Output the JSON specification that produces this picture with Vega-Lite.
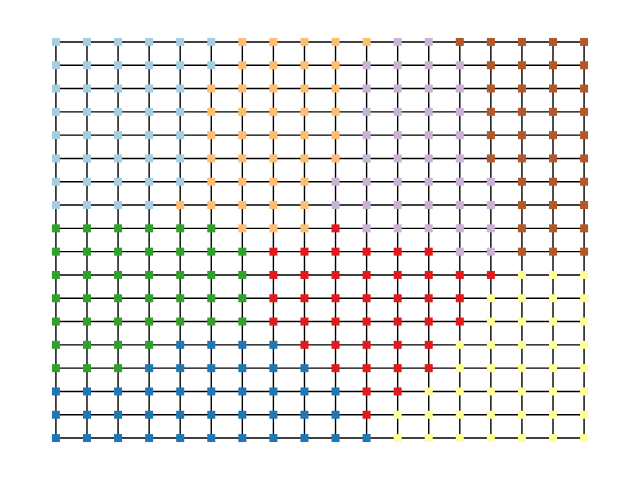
{
  "$schema": "https://vega.github.io/schema/vega-lite/v6.json",
  "width": 640,
  "height": 480,
  "padding": 0,
  "autosize": {"type": "fit", "contains": "padding"},
  "background": "white",
  "config": {"view": {"stroke": null}},
  "data": {"values": [
    {"row":0,"col":0,"group":"lb"},{"row":0,"col":1,"group":"lb"},{"row":0,"col":2,"group":"lb"},{"row":0,"col":3,"group":"lb"},{"row":0,"col":4,"group":"lb"},{"row":0,"col":5,"group":"lb"},{"row":0,"col":6,"group":"lo"},{"row":0,"col":7,"group":"lo"},{"row":0,"col":8,"group":"lo"},{"row":0,"col":9,"group":"lo"},{"row":0,"col":10,"group":"lo"},{"row":0,"col":11,"group":"lp"},{"row":0,"col":12,"group":"lp"},{"row":0,"col":13,"group":"br"},{"row":0,"col":14,"group":"br"},{"row":0,"col":15,"group":"br"},{"row":0,"col":16,"group":"br"},{"row":0,"col":17,"group":"br"},
    {"row":1,"col":0,"group":"lb"},{"row":1,"col":1,"group":"lb"},{"row":1,"col":2,"group":"lb"},{"row":1,"col":3,"group":"lb"},{"row":1,"col":4,"group":"lb"},{"row":1,"col":5,"group":"lb"},{"row":1,"col":6,"group":"lo"},{"row":1,"col":7,"group":"lo"},{"row":1,"col":8,"group":"lo"},{"row":1,"col":9,"group":"lo"},{"row":1,"col":10,"group":"lp"},{"row":1,"col":11,"group":"lp"},{"row":1,"col":12,"group":"lp"},{"row":1,"col":13,"group":"lp"},{"row":1,"col":14,"group":"br"},{"row":1,"col":15,"group":"br"},{"row":1,"col":16,"group":"br"},{"row":1,"col":17,"group":"br"},
    {"row":2,"col":0,"group":"lb"},{"row":2,"col":1,"group":"lb"},{"row":2,"col":2,"group":"lb"},{"row":2,"col":3,"group":"lb"},{"row":2,"col":4,"group":"lb"},{"row":2,"col":5,"group":"lo"},{"row":2,"col":6,"group":"lo"},{"row":2,"col":7,"group":"lo"},{"row":2,"col":8,"group":"lo"},{"row":2,"col":9,"group":"lo"},{"row":2,"col":10,"group":"lp"},{"row":2,"col":11,"group":"lp"},{"row":2,"col":12,"group":"lp"},{"row":2,"col":13,"group":"lp"},{"row":2,"col":14,"group":"br"},{"row":2,"col":15,"group":"br"},{"row":2,"col":16,"group":"br"},{"row":2,"col":17,"group":"br"},
    {"row":3,"col":0,"group":"lb"},{"row":3,"col":1,"group":"lb"},{"row":3,"col":2,"group":"lb"},{"row":3,"col":3,"group":"lb"},{"row":3,"col":4,"group":"lb"},{"row":3,"col":5,"group":"lo"},{"row":3,"col":6,"group":"lo"},{"row":3,"col":7,"group":"lo"},{"row":3,"col":8,"group":"lo"},{"row":3,"col":9,"group":"lo"},{"row":3,"col":10,"group":"lp"},{"row":3,"col":11,"group":"lp"},{"row":3,"col":12,"group":"lp"},{"row":3,"col":13,"group":"lp"},{"row":3,"col":14,"group":"br"},{"row":3,"col":15,"group":"br"},{"row":3,"col":16,"group":"br"},{"row":3,"col":17,"group":"br"},
    {"row":4,"col":0,"group":"lb"},{"row":4,"col":1,"group":"lb"},{"row":4,"col":2,"group":"lb"},{"row":4,"col":3,"group":"lb"},{"row":4,"col":4,"group":"lb"},{"row":4,"col":5,"group":"lo"},{"row":4,"col":6,"group":"lo"},{"row":4,"col":7,"group":"lo"},{"row":4,"col":8,"group":"lo"},{"row":4,"col":9,"group":"lo"},{"row":4,"col":10,"group":"lp"},{"row":4,"col":11,"group":"lp"},{"row":4,"col":12,"group":"lp"},{"row":4,"col":13,"group":"lp"},{"row":4,"col":14,"group":"br"},{"row":4,"col":15,"group":"br"},{"row":4,"col":16,"group":"br"},{"row":4,"col":17,"group":"br"},
    {"row":5,"col":0,"group":"lb"},{"row":5,"col":1,"group":"lb"},{"row":5,"col":2,"group":"lb"},{"row":5,"col":3,"group":"lb"},{"row":5,"col":4,"group":"lb"},{"row":5,"col":5,"group":"lo"},{"row":5,"col":6,"group":"lo"},{"row":5,"col":7,"group":"lo"},{"row":5,"col":8,"group":"lo"},{"row":5,"col":9,"group":"lo"},{"row":5,"col":10,"group":"lp"},{"row":5,"col":11,"group":"lp"},{"row":5,"col":12,"group":"lp"},{"row":5,"col":13,"group":"lp"},{"row":5,"col":14,"group":"br"},{"row":5,"col":15,"group":"br"},{"row":5,"col":16,"group":"br"},{"row":5,"col":17,"group":"br"},
    {"row":6,"col":0,"group":"lb"},{"row":6,"col":1,"group":"lb"},{"row":6,"col":2,"group":"lb"},{"row":6,"col":3,"group":"lb"},{"row":6,"col":4,"group":"lb"},{"row":6,"col":5,"group":"lo"},{"row":6,"col":6,"group":"lo"},{"row":6,"col":7,"group":"lo"},{"row":6,"col":8,"group":"lo"},{"row":6,"col":9,"group":"lp"},{"row":6,"col":10,"group":"lp"},{"row":6,"col":11,"group":"lp"},{"row":6,"col":12,"group":"lp"},{"row":6,"col":13,"group":"lp"},{"row":6,"col":14,"group":"lp"},{"row":6,"col":15,"group":"br"},{"row":6,"col":16,"group":"br"},{"row":6,"col":17,"group":"br"},
    {"row":7,"col":0,"group":"lb"},{"row":7,"col":1,"group":"lb"},{"row":7,"col":2,"group":"lb"},{"row":7,"col":3,"group":"lb"},{"row":7,"col":4,"group":"lo"},{"row":7,"col":5,"group":"lo"},{"row":7,"col":6,"group":"lo"},{"row":7,"col":7,"group":"lo"},{"row":7,"col":8,"group":"lo"},{"row":7,"col":9,"group":"lp"},{"row":7,"col":10,"group":"lp"},{"row":7,"col":11,"group":"lp"},{"row":7,"col":12,"group":"lp"},{"row":7,"col":13,"group":"lp"},{"row":7,"col":14,"group":"lp"},{"row":7,"col":15,"group":"br"},{"row":7,"col":16,"group":"br"},{"row":7,"col":17,"group":"br"},
    {"row":8,"col":0,"group":"g"},{"row":8,"col":1,"group":"g"},{"row":8,"col":2,"group":"g"},{"row":8,"col":3,"group":"g"},{"row":8,"col":4,"group":"g"},{"row":8,"col":5,"group":"g"},{"row":8,"col":6,"group":"lo"},{"row":8,"col":7,"group":"lo"},{"row":8,"col":8,"group":"lo"},{"row":8,"col":9,"group":"r"},{"row":8,"col":10,"group":"lp"},{"row":8,"col":11,"group":"lp"},{"row":8,"col":12,"group":"lp"},{"row":8,"col":13,"group":"lp"},{"row":8,"col":14,"group":"lp"},{"row":8,"col":15,"group":"br"},{"row":8,"col":16,"group":"br"},{"row":8,"col":17,"group":"br"},
    {"row":9,"col":0,"group":"g"},{"row":9,"col":1,"group":"g"},{"row":9,"col":2,"group":"g"},{"row":9,"col":3,"group":"g"},{"row":9,"col":4,"group":"g"},{"row":9,"col":5,"group":"g"},{"row":9,"col":6,"group":"g"},{"row":9,"col":7,"group":"r"},{"row":9,"col":8,"group":"r"},{"row":9,"col":9,"group":"r"},{"row":9,"col":10,"group":"r"},{"row":9,"col":11,"group":"r"},{"row":9,"col":12,"group":"r"},{"row":9,"col":13,"group":"lp"},{"row":9,"col":14,"group":"lp"},{"row":9,"col":15,"group":"br"},{"row":9,"col":16,"group":"br"},{"row":9,"col":17,"group":"br"},
    {"row":10,"col":0,"group":"g"},{"row":10,"col":1,"group":"g"},{"row":10,"col":2,"group":"g"},{"row":10,"col":3,"group":"g"},{"row":10,"col":4,"group":"g"},{"row":10,"col":5,"group":"g"},{"row":10,"col":6,"group":"g"},{"row":10,"col":7,"group":"r"},{"row":10,"col":8,"group":"r"},{"row":10,"col":9,"group":"r"},{"row":10,"col":10,"group":"r"},{"row":10,"col":11,"group":"r"},{"row":10,"col":12,"group":"r"},{"row":10,"col":13,"group":"r"},{"row":10,"col":14,"group":"r"},{"row":10,"col":15,"group":"y"},{"row":10,"col":16,"group":"y"},{"row":10,"col":17,"group":"y"},
    {"row":11,"col":0,"group":"g"},{"row":11,"col":1,"group":"g"},{"row":11,"col":2,"group":"g"},{"row":11,"col":3,"group":"g"},{"row":11,"col":4,"group":"g"},{"row":11,"col":5,"group":"g"},{"row":11,"col":6,"group":"g"},{"row":11,"col":7,"group":"r"},{"row":11,"col":8,"group":"r"},{"row":11,"col":9,"group":"r"},{"row":11,"col":10,"group":"r"},{"row":11,"col":11,"group":"r"},{"row":11,"col":12,"group":"r"},{"row":11,"col":13,"group":"r"},{"row":11,"col":14,"group":"y"},{"row":11,"col":15,"group":"y"},{"row":11,"col":16,"group":"y"},{"row":11,"col":17,"group":"y"},
    {"row":12,"col":0,"group":"g"},{"row":12,"col":1,"group":"g"},{"row":12,"col":2,"group":"g"},{"row":12,"col":3,"group":"g"},{"row":12,"col":4,"group":"g"},{"row":12,"col":5,"group":"g"},{"row":12,"col":6,"group":"g"},{"row":12,"col":7,"group":"r"},{"row":12,"col":8,"group":"r"},{"row":12,"col":9,"group":"r"},{"row":12,"col":10,"group":"r"},{"row":12,"col":11,"group":"r"},{"row":12,"col":12,"group":"r"},{"row":12,"col":13,"group":"r"},{"row":12,"col":14,"group":"y"},{"row":12,"col":15,"group":"y"},{"row":12,"col":16,"group":"y"},{"row":12,"col":17,"group":"y"},
    {"row":13,"col":0,"group":"g"},{"row":13,"col":1,"group":"g"},{"row":13,"col":2,"group":"g"},{"row":13,"col":3,"group":"g"},{"row":13,"col":4,"group":"db"},{"row":13,"col":5,"group":"db"},{"row":13,"col":6,"group":"db"},{"row":13,"col":7,"group":"db"},{"row":13,"col":8,"group":"r"},{"row":13,"col":9,"group":"r"},{"row":13,"col":10,"group":"r"},{"row":13,"col":11,"group":"r"},{"row":13,"col":12,"group":"r"},{"row":13,"col":13,"group":"y"},{"row":13,"col":14,"group":"y"},{"row":13,"col":15,"group":"y"},{"row":13,"col":16,"group":"y"},{"row":13,"col":17,"group":"y"},
    {"row":14,"col":0,"group":"g"},{"row":14,"col":1,"group":"g"},{"row":14,"col":2,"group":"g"},{"row":14,"col":3,"group":"db"},{"row":14,"col":4,"group":"db"},{"row":14,"col":5,"group":"db"},{"row":14,"col":6,"group":"db"},{"row":14,"col":7,"group":"db"},{"row":14,"col":8,"group":"db"},{"row":14,"col":9,"group":"r"},{"row":14,"col":10,"group":"r"},{"row":14,"col":11,"group":"r"},{"row":14,"col":12,"group":"r"},{"row":14,"col":13,"group":"y"},{"row":14,"col":14,"group":"y"},{"row":14,"col":15,"group":"y"},{"row":14,"col":16,"group":"y"},{"row":14,"col":17,"group":"y"},
    {"row":15,"col":0,"group":"db"},{"row":15,"col":1,"group":"db"},{"row":15,"col":2,"group":"db"},{"row":15,"col":3,"group":"db"},{"row":15,"col":4,"group":"db"},{"row":15,"col":5,"group":"db"},{"row":15,"col":6,"group":"db"},{"row":15,"col":7,"group":"db"},{"row":15,"col":8,"group":"db"},{"row":15,"col":9,"group":"db"},{"row":15,"col":10,"group":"r"},{"row":15,"col":11,"group":"r"},{"row":15,"col":12,"group":"y"},{"row":15,"col":13,"group":"y"},{"row":15,"col":14,"group":"y"},{"row":15,"col":15,"group":"y"},{"row":15,"col":16,"group":"y"},{"row":15,"col":17,"group":"y"},
    {"row":16,"col":0,"group":"db"},{"row":16,"col":1,"group":"db"},{"row":16,"col":2,"group":"db"},{"row":16,"col":3,"group":"db"},{"row":16,"col":4,"group":"db"},{"row":16,"col":5,"group":"db"},{"row":16,"col":6,"group":"db"},{"row":16,"col":7,"group":"db"},{"row":16,"col":8,"group":"db"},{"row":16,"col":9,"group":"db"},{"row":16,"col":10,"group":"r"},{"row":16,"col":11,"group":"y"},{"row":16,"col":12,"group":"y"},{"row":16,"col":13,"group":"y"},{"row":16,"col":14,"group":"y"},{"row":16,"col":15,"group":"y"},{"row":16,"col":16,"group":"y"},{"row":16,"col":17,"group":"y"},
    {"row":17,"col":0,"group":"db"},{"row":17,"col":1,"group":"db"},{"row":17,"col":2,"group":"db"},{"row":17,"col":3,"group":"db"},{"row":17,"col":4,"group":"db"},{"row":17,"col":5,"group":"db"},{"row":17,"col":6,"group":"db"},{"row":17,"col":7,"group":"db"},{"row":17,"col":8,"group":"db"},{"row":17,"col":9,"group":"db"},{"row":17,"col":10,"group":"db"},{"row":17,"col":11,"group":"y"},{"row":17,"col":12,"group":"y"},{"row":17,"col":13,"group":"y"},{"row":17,"col":14,"group":"y"},{"row":17,"col":15,"group":"y"},{"row":17,"col":16,"group":"y"},{"row":17,"col":17,"group":"y"}
  ]},
  "layer": [
    {
      "transform": [{"filter": "datum.col == 0"}],
      "mark": {"type": "rule", "color": "black", "strokeWidth": 1.4},
      "encoding": {
        "y": {"field": "row", "type": "quantitative", "scale": {"domain": [-1.8, 18.8], "reverse": true, "nice": false, "zero": false}, "axis": null},
        "x": {"datum": 0, "type": "quantitative", "scale": {"domain": [-1.8, 18.8], "nice": false, "zero": false}, "axis": null},
        "x2": {"datum": 17}
      }
    },
    {
      "transform": [{"filter": "datum.row == 0"}],
      "mark": {"type": "rule", "color": "black", "strokeWidth": 1.4},
      "encoding": {
        "x": {"field": "col", "type": "quantitative", "scale": {"domain": [-1.8, 18.8], "nice": false, "zero": false}, "axis": null},
        "y": {"datum": 0, "type": "quantitative", "scale": {"domain": [-1.8, 18.8], "reverse": true, "nice": false, "zero": false}, "axis": null},
        "y2": {"datum": 17}
      }
    },
    {
      "mark": {"type": "point", "shape": "square", "filled": true, "opacity": 1, "size": 64},
      "encoding": {
        "x": {"field": "col", "type": "quantitative", "scale": {"domain": [-1.8, 18.8], "nice": false, "zero": false}, "axis": null},
        "y": {"field": "row", "type": "quantitative", "scale": {"domain": [-1.8, 18.8], "reverse": true, "nice": false, "zero": false}, "axis": null},
        "color": {
          "field": "group", "type": "nominal", "legend": null,
          "scale": {
            "domain": ["lb", "db", "g", "r", "lo", "lp", "y", "br"],
            "range": ["#a6cee3", "#1f78b4", "#33a02c", "#e31a1c", "#fdbf6f", "#cab2d6", "#ffff99", "#b15928"]
          }
        }
      }
    }
  ]
}
